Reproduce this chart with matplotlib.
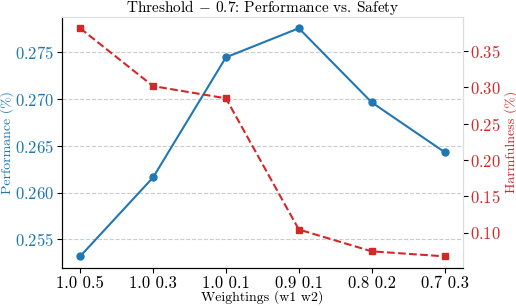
import matplotlib
matplotlib.use("Agg")
import matplotlib.pyplot as plt

plt.rcParams["font.family"] = "cmr10"
plt.rcParams["mathtext.fontset"] = "cm"
plt.rcParams["axes.formatter.use_mathtext"] = True

#data
weightings = ["1.0 0.5", "1.0 0.3", "1.0 0.1", "0.9 0.1", "0.8 0.2", "0.7 0.3"]
performance = [0.2532, 0.2616, 0.2744, 0.2775, 0.2696, 0.2643]
harmfulness = [0.3814, 0.3018, 0.2850, 0.1045, 0.0745, 0.0676]

blue = "#1f77b4"
red = "#d62728"

fig, ax = plt.subplots(figsize=(5.16, 3.06), dpi=100)
x = range(len(weightings))

ax.plot(x, performance, color=blue, marker="o", markersize=5, lw=1.5)
ax.set_ylabel("Performance (%)", color=blue, fontsize=10, labelpad=1)
ax.tick_params(axis="y", labelcolor=blue, labelsize=12, pad=2)
ax.tick_params(axis="x", labelsize=12, pad=2)
ax.set_xticks(list(x))
ax.set_xticklabels(weightings)
ax.set_xlabel("Weightings (w1 w2)", fontsize=10, labelpad=0)
ax.grid(axis="y", linestyle="--", color="#cccccc", lw=0.8)
ax.set_title("Threshold $-$ 0.7: Performance vs. Safety", fontsize=11, pad=3)

ax2 = ax.twinx()
ax2.plot(x, harmfulness, color=red, marker="s", markersize=5, lw=1.5, linestyle="--")
ax2.set_ylabel("Harmfulness (%)", color=red, fontsize=10, labelpad=2)
ax2.tick_params(axis="y", labelcolor=red, labelsize=12, pad=2)

for a in (ax, ax2):
    a.spines["top"].set_color("#dddddd")
    a.spines["right"].set_color("#dddddd")
    a.spines["left"].set_color("black")
    a.spines["bottom"].set_color("black")

fig.subplots_adjust(left=0.12, right=0.897, top=0.945, bottom=0.125)
fig.savefig("out.png", dpi=100)
